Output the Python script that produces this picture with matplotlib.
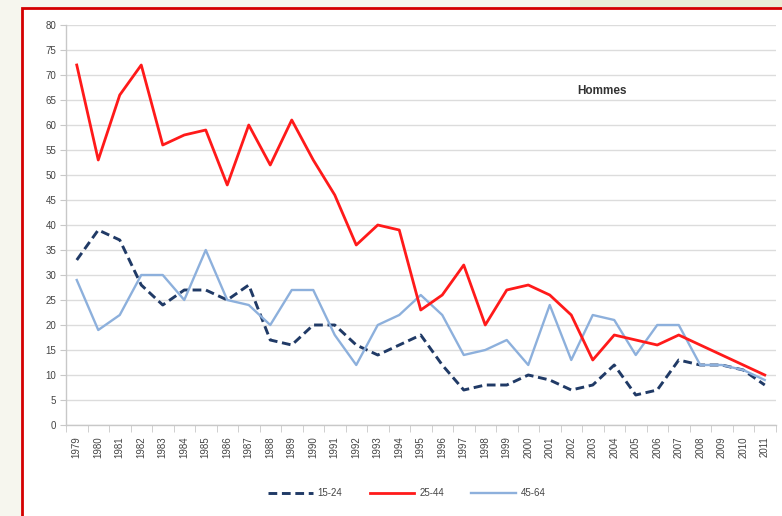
import matplotlib
matplotlib.use("Agg")
import matplotlib.pyplot as plt
from matplotlib.patches import Rectangle

plt.rcParams['font.family'] = ['Liberation Sans', 'DejaVu Sans']

years = list(range(1979, 2012))
labels = [str(y) for y in years]

age_15_24 = [33, 39, 37, 28, 24, 27, 27, 25, 28, 17, 16, 20, 20, 16, 14, 16, 18,
             12, 7, 8, 8, 10, 9, 7, 8, 12, 6, 7, 13, 12, 12, 11, 8]
age_25_44 = [72, 53, 66, 72, 56, 58, 59, 48, 60, 52, 61, 53, 46, 36, 40, 39, 23,
             26, 32, 20, 27, 28, 26, 22, 13, 18, 17, 16, 18, 16, 14, 12, 10]
age_45_64 = [29, 19, 22, 30, 30, 25, 35, 25, 24, 20, 27, 27, 18, 12, 20, 22, 26,
             22, 14, 15, 17, 12, 24, 13, 22, 21, 14, 20, 20, 12, 12, 11, 9]

series_names = ['15-24', '25-44', '45-64']

W, H = 782, 516
fig = plt.figure(figsize=(W / 100, H / 100), dpi=100, facecolor='#f6f6ee')

# top-right band and white chart card with red border
fig.patches.append(Rectangle((570 / W, 1 - 8 / H), (W - 570) / W, 8 / H,
                             transform=fig.transFigure, facecolor='#e9edd6',
                             edgecolor='none', zorder=0))
fig.patches.append(Rectangle((21.5 / W, -0.1), 1.2, 1 - 8 / H + 0.1,
                             transform=fig.transFigure, facecolor='white',
                             edgecolor='#d40000', linewidth=2.0, zorder=1))

ax = fig.add_axes([66 / W, 1 - 425 / H, 709.5 / W, 400 / H])
ax.set_facecolor('white')
ax.set_zorder(2)

x = list(range(len(years)))
ax.plot(x, age_15_24, color='#203a66', lw=2.1, dashes=(3, 1.6),
        label=series_names[0], zorder=3)
ax.plot(x, age_25_44, color='#ff1a1a', lw=2.0, label=series_names[1], zorder=4)
ax.plot(x, age_45_64, color='#8db0dc', lw=1.7, label=series_names[2], zorder=3)

ax.set_xlim(-0.5, len(years) - 0.5)
ax.set_ylim(0, 80)
ax.set_yticks(range(0, 81, 5))
ax.set_xticks(x)
ax.set_xticklabels(labels, rotation=90)
ax.set_xticks([i - 0.5 for i in range(len(years) + 1)], minor=True)

ax.grid(axis='y', color='#dcdcdc', lw=1.0)
ax.set_axisbelow(True)
for side in ['top', 'right']:
    ax.spines[side].set_visible(False)
for side in ['left', 'bottom']:
    ax.spines[side].set_color('#c8c8c8')
    ax.spines[side].set_linewidth(1.0)

ax.tick_params(axis='y', length=4, color='#c8c8c8', labelsize=7,
               labelcolor='#444444', pad=3)
ax.tick_params(axis='x', which='major', length=0, labelsize=7,
               labelcolor='#444444', pad=8)
ax.tick_params(axis='x', which='minor', length=5, color='#c8c8c8')

ax.text(0.755, 0.835, 'Hommes', transform=ax.transAxes, fontsize=8.5,
        fontweight='bold', color='#333333', ha='center', va='center')

leg = fig.legend(loc='center', bbox_to_anchor=(407 / W, 1 - 493 / H), ncol=3,
                 frameon=False, fontsize=7, handlelength=4.6,
                 handletextpad=0.5, columnspacing=2.8)
for t in leg.get_texts():
    t.set_color('#444444')
leg.set_zorder(5)

fig.savefig('out.png', dpi=100, facecolor=fig.get_facecolor())
